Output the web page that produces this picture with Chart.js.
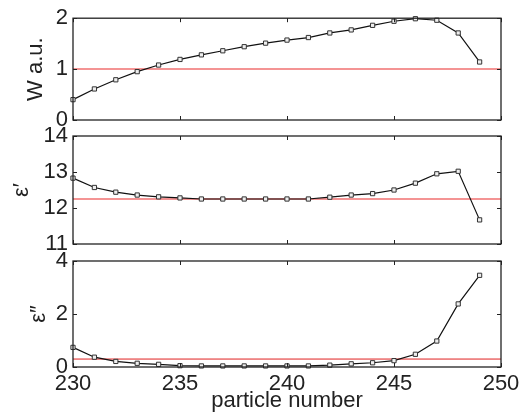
<!DOCTYPE html>
<html lang="en">
<head>
<meta charset="UTF-8">
<title>W, eps' and eps'' against particle number</title>
<style>
    body { margin: 0; background: #fff; }
    .wrap { position: relative; width: 530px; height: 418px; }
    .wrap canvas { position: absolute; left: 0; top: 0; }
</style>
</head>
<body>

<div class="wrap">
    <canvas id="wChart" width="530" height="418"></canvas>
    <canvas id="epsRealChart" width="530" height="418"></canvas>
    <canvas id="epsImagChart" width="530" height="418"></canvas>
</div>

<script src="https://cdn.jsdelivr.net/npm/chart.js"></script>
<script>
    // values
    const particles = [230, 231, 232, 233, 234, 235, 236, 237, 238, 239,
                       240, 241, 242, 243, 244, 245, 246, 247, 248, 249];
    const wValues   = [0.40, 0.61, 0.79, 0.95, 1.08, 1.19, 1.28, 1.36, 1.44, 1.51,
                       1.57, 1.62, 1.71, 1.77, 1.86, 1.94, 1.99, 1.96, 1.71, 1.14];
    const epsReal   = [12.83, 12.57, 12.44, 12.36, 12.31, 12.28, 12.25, 12.25, 12.25, 12.25,
                       12.25, 12.25, 12.30, 12.36, 12.40, 12.50, 12.69, 12.95, 13.02, 11.67];
    const epsImag   = [0.74, 0.37, 0.21, 0.14, 0.10, 0.05, 0.04, 0.04, 0.04, 0.04,
                       0.04, 0.04, 0.07, 0.12, 0.16, 0.24, 0.48, 0.98, 2.38, 3.46];
    const wRef = 1.0;
    const epsRealRef = 12.25;
    const epsImagRef = 0.3;
    const xTicks = [230, 235, 240, 245, 250];

    const FONT = "'Liberation Sans', Arial, Helvetica, sans-serif";
    const INK = '#222';

    // box round the plot with inward tick marks, matlab style
    const framePlugin = {
        id: 'frame',
        afterDatasetsDraw(chart) {
            const { ctx, chartArea: a, scales: { x, y } } = chart;
            ctx.save();
            ctx.strokeStyle = INK;
            ctx.lineWidth = 1.3;
            ctx.strokeRect(a.left, a.top, a.width, a.height);
            ctx.lineWidth = 1;
            ctx.beginPath();
            xTicks.forEach(v => {
                const px = Math.round(x.getPixelForValue(v)) + 0.5;
                ctx.moveTo(px, a.top); ctx.lineTo(px, a.top + 4);
                ctx.moveTo(px, a.bottom); ctx.lineTo(px, a.bottom - 4);
            });
            y.ticks.forEach(t => {
                const py = Math.round(y.getPixelForValue(t.value)) + 0.5;
                ctx.moveTo(a.left, py); ctx.lineTo(a.left + 4, py);
                ctx.moveTo(a.right, py); ctx.lineTo(a.right - 4, py);
            });
            ctx.stroke();
            ctx.restore();
        }
    };

    function makePanel(id, values, refValue, refColor, opts) {
        const ctx = document.getElementById(id).getContext('2d');
        const showX = !!opts.showX;
        return new Chart(ctx, {
            type: 'line',
            data: {
                labels: particles,
                datasets: [{
                    data: particles.map((p, i) => ({ x: p, y: values[i] })),
                    borderColor: '#111',
                    borderWidth: 1.2,
                    pointStyle: 'rect',
                    pointRadius: 3,
                    pointBorderWidth: 1,
                    pointBorderColor: '#333',
                    pointBackgroundColor: '#eee',
                    tension: 0,
                    clip: false
                }, {
                    data: [{ x: 230, y: refValue }, { x: 250, y: refValue }],
                    borderColor: refColor,
                    borderWidth: opts.refWidth,
                    pointRadius: 0
                }]
            },
            options: {
                responsive: false,
                animation: false,
                devicePixelRatio: 1,
                layout: { padding: { left: 0, right: 29, top: opts.top, bottom: showX ? 0 : 418 - opts.bottom } },
                plugins: { legend: { display: false }, tooltip: { enabled: false } },
                scales: {
                    x: {
                        type: 'linear',
                        min: 230, max: 250,
                        grid: { display: false, drawTicks: false },
                        border: { display: false },
                        ticks: {
                            display: showX, stepSize: 5, padding: 4,
                            color: INK, font: { family: FONT, size: 22 }
                        },
                        title: {
                            display: showX, text: 'particle number', color: INK,
                            font: { family: FONT, size: 22 }, padding: { top: 0, bottom: 4 }
                        },
                        afterFit: s => { s.height = showX ? 418 - opts.bottom : 0; }
                    },
                    y: {
                        min: opts.min, max: opts.max,
                        grid: { display: false, drawTicks: false },
                        border: { display: false },
                        ticks: {
                            stepSize: opts.step, padding: 5,
                            color: INK, font: { family: FONT, size: 22 }
                        },
                        title: {
                            display: true, text: opts.label, color: INK,
                            font: { family: FONT, size: 22 }, padding: { top: opts.titlePad, bottom: 0 }
                        },
                        afterFit: s => { s.width = 73; }
                    }
                }
            },
            plugins: [framePlugin]
        });
    }

    makePanel('wChart', wValues, wRef, '#f07070',
        { top: 13, bottom: 120, min: 0, max: 2, step: 1, label: 'W a.u.', titlePad: 23, refWidth: 1.5 });
    makePanel('epsRealChart', epsReal, epsRealRef, '#f07070',
        { top: 136, bottom: 244, min: 11, max: 14, step: 1, label: 'ε′', titlePad: 9, refWidth: 1.5 });
    makePanel('epsImagChart', epsImag, epsImagRef, '#e02020',
        { top: 261, bottom: 367, min: 0, max: 4, step: 2, label: 'ε″', titlePad: 26, refWidth: 1, showX: true });
</script>

</body>
</html>
